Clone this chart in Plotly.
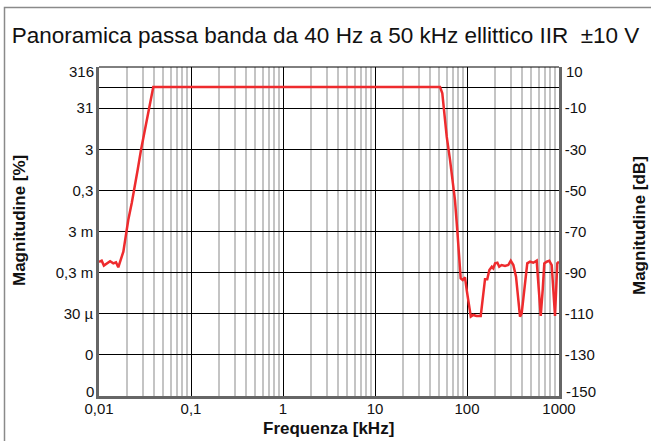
import plotly.graph_objects as go

# Frequency response of the band-pass elliptic IIR filter (frequency in kHz, level in dB)
freq_khz = [
    0.0100, 0.0107, 0.0113, 0.0121, 0.0132, 0.0143, 0.0153, 0.0162, 0.0173,
    0.0184, 0.0195, 0.0208, 0.0227, 0.0242, 0.0263, 0.0286, 0.0330, 0.0359,
    0.0389, 1.0, 10.0, 50.9, 53.9, 56.2, 60.2, 65.4, 69.9, 74.0, 78.4, 82.5,
    85.4, 89.8, 95.1, 99.2, 105, 110, 117, 127, 141, 150, 157, 166, 175, 186,
    193, 202, 214, 224, 238, 259, 281, 299, 319, 341, 377, 393, 427, 452, 484,
    526, 572, 596, 633, 665, 692, 735, 784, 833, 905, 958, 1000,
]
level_db = [
    -84.8, -84.2, -86.6, -85.5, -84.5, -85.5, -85.0, -87.4, -83.9,
    -79.8, -72.5, -64.4, -56.1, -48.2, -40.1, -30.4, -15.8, -6.0,
    0.3, 0.3, 0.3, 0.3, -2.8, -10.9, -23.9, -35.2, -45.0, -54.7, -69.3, -85.5,
    -92.8, -93.6, -92.3, -98.4, -106.6, -111.4, -110.6, -111.1, -111.1, -101.7, -93.2, -93.2, -88.7, -87.1,
    -87.9, -85.5, -85.2, -87.1, -86.3, -86.8, -86.3, -84.2, -86.3, -92.0, -111.4, -109.8, -93.6, -85.5, -84.7,
    -85.2, -84.2, -93.6, -111.1, -98.4, -85.5, -84.7, -84.2, -86.3, -111.1, -85.5, -84.7,
]

# Axis tick positions and labels
x_major = [0.01, 0.1, 1, 10, 100, 1000]
x_major_text = ["0,01", "0,1", "1", "10", "100", "1000"]
x_minor = [m * d for d in [0.01, 0.1, 1, 10, 100] for m in range(2, 10)]

y_ticks_db = [10, -10, -30, -50, -70, -90, -110, -130, -150]
y_text_pct = ["316", "31", "3", "0,3", "3 m", "0,3 m", "30 µ", "0", "0"]
y_text_db = ["10", "-10", "-30", "-50", "-70", "-90", "-110", "-130", "-150"]

FONT = "Liberation Sans, Arial, sans-serif"
INK = "#111111"
AXIS_GREY = "#666666"
TICK_SIZE = 15

W, H = 651, 441
L, R, T, B = 99, 559, 67, 396

fig = go.Figure()
fig.add_trace(go.Scatter(
    x=freq_khz, y=level_db, mode="lines",
    line=dict(color="#ee2b2e", width=2.5),
    showlegend=False, hoverinfo="skip",
))
# invisible companion trace so the dB axis on the right is drawn
fig.add_trace(go.Scatter(
    x=[x_major[0]], y=[y_ticks_db[0]], yaxis="y2", mode="markers",
    marker=dict(opacity=0), showlegend=False, hoverinfo="skip",
))

# The end labels of both vertical axes sit slightly inside the frame,
# so they are placed separately below; the axes carry the inner ones.
inner_pct = [""] + y_text_pct[1:-1] + [""]
inner_db = [""] + y_text_db[1:-1] + [""]

fig.update_layout(
    width=W, height=H,
    margin=dict(l=L, r=W - R, t=T, b=H - B),
    paper_bgcolor="white", plot_bgcolor="white",
    font=dict(family=FONT, size=TICK_SIZE, color=INK),
    title=dict(
        text="Panoramica passa banda da 40 Hz a 50 kHz ellittico IIR  ±10 V",
        x=0.5, xref="container", xanchor="center",
        y=1 - 35 / H, yref="container", yanchor="middle",
        font=dict(family=FONT, size=22.5, color=INK),
    ),
    xaxis=dict(
        type="log", range=[-2, 3],
        tickvals=x_major, ticktext=x_major_text, ticks="",
        ticklabelstandoff=-3,
        showgrid=True, gridcolor="black", gridwidth=1,
        minor=dict(tickvals=x_minor, showgrid=True, gridcolor="#c4c4c4", gridwidth=1.5, ticks=""),
        showline=True, linecolor=AXIS_GREY, linewidth=2.5,
        zeroline=False, tickfont=dict(size=TICK_SIZE),
    ),
    yaxis=dict(
        range=[-150, 10],
        tickvals=y_ticks_db + [0], ticktext=inner_pct + [""], ticks="",
        showgrid=True, gridcolor="black", gridwidth=1,
        showline=True, linecolor=AXIS_GREY, linewidth=2.5, zeroline=False,
        tickfont=dict(size=TICK_SIZE),
    ),
    yaxis2=dict(
        range=[-150, 10], overlaying="y", side="right",
        tickvals=y_ticks_db, ticktext=inner_db, ticks="",
        showgrid=False, zeroline=False,
        showline=True, linecolor=AXIS_GREY, linewidth=2.5,
        tickfont=dict(size=TICK_SIZE),
    ),
)

# End labels of the two vertical axes, nudged inward
for idx, shift in ((0, -4), (-1, 5)):
    fig.add_annotation(text=y_text_pct[idx], xref="paper", yref="y",
                       x=0, y=y_ticks_db[idx], xanchor="right", yanchor="middle",
                       xshift=-3, yshift=shift, showarrow=False,
                       font=dict(size=TICK_SIZE, family=FONT, color=INK))
    fig.add_annotation(text=y_text_db[idx], xref="paper", yref="y",
                       x=1, y=y_ticks_db[idx], xanchor="left", yanchor="middle",
                       xshift=5, yshift=shift, showarrow=False,
                       font=dict(size=TICK_SIZE, family=FONT, color=INK))

def px_to_paper_x(px):
    return (px - L) / (R - L)

def px_to_paper_y(py):
    return (B - py) / (B - T)

# Axis titles
fig.add_annotation(text="<b>Frequenza [kHz]</b>", xref="paper", yref="paper",
                   x=px_to_paper_x(328), y=px_to_paper_y(428), xanchor="center", yanchor="middle",
                   showarrow=False, font=dict(size=17, family=FONT, color=INK))
fig.add_annotation(text="<b>Magnitudine [%]</b>", xref="paper", yref="paper",
                   x=px_to_paper_x(19), y=px_to_paper_y(221), xanchor="center", yanchor="middle",
                   textangle=-90, showarrow=False, font=dict(size=17, family=FONT, color=INK))
fig.add_annotation(text="<b>Magnitudine [dB]</b>", xref="paper", yref="paper",
                   x=px_to_paper_x(639), y=px_to_paper_y(226), xanchor="center", yanchor="middle",
                   textangle=-90, showarrow=False, font=dict(size=17, family=FONT, color=INK))

# Top frame line of the plot area
fig.add_shape(type="line", xref="paper", yref="paper", x0=0, x1=1, y0=1, y1=1,
              line=dict(color="black", width=1))

# Outer panel border
fig.add_shape(type="rect", xref="paper", yref="paper",
              x0=px_to_paper_x(4.5), x1=px_to_paper_x(W + 10),
              y0=px_to_paper_y(H + 10), y1=px_to_paper_y(7.5),
              line=dict(color="#8a8a8a", width=1.5), fillcolor="rgba(0,0,0,0)", layer="below")

fig.write_html("out.html")
